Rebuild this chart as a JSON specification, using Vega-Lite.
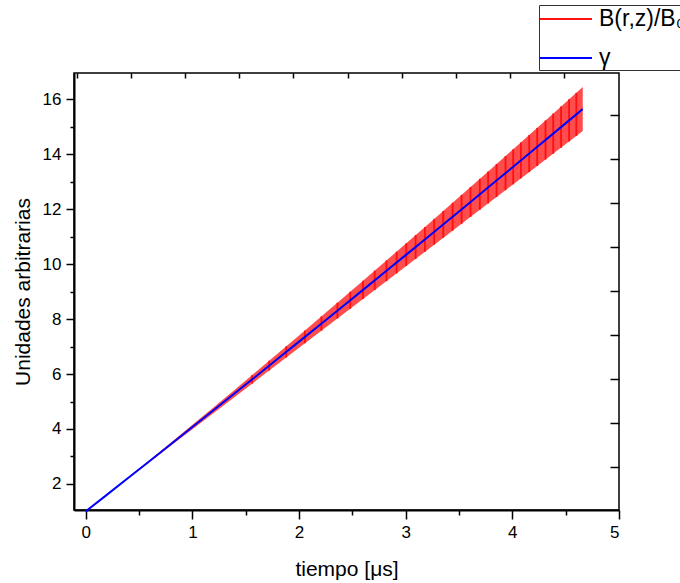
{
  "$schema": "https://vega.github.io/schema/vega-lite/v6.json",
  "width": 545,
  "height": 437,
  "autosize": {"type": "none"},
  "padding": {"left": 74, "top": 73, "right": 61, "bottom": 73},
  "background": "white",
  "config": {
    "view": {"stroke": "black", "strokeWidth": 1.5},
    "font": "Liberation Sans",
    "axis": {
      "grid": false,
      "labelFont": "Liberation Sans",
      "labelFontSize": 17,
      "labelColor": "black",
      "tickColor": "black",
      "tickWidth": 1.5,
      "domainColor": "black",
      "domainWidth": 2,
      "titleFont": "Liberation Sans",
      "titleFontSize": 21,
      "titleFontWeight": "normal",
      "titleColor": "black"
    }
  },
  "datasets": {
    "curve": [
      {"t": 0.0, "g": 1.0, "lo": 1.0, "hi": 1.0},
      {"t": 0.2, "g": 1.611, "lo": 1.604, "hi": 1.618},
      {"t": 0.4, "g": 2.223, "lo": 2.203, "hi": 2.243},
      {"t": 0.6, "g": 2.837, "lo": 2.8, "hi": 2.874},
      {"t": 0.8, "g": 3.453, "lo": 3.396, "hi": 3.51},
      {"t": 1.0, "g": 4.07, "lo": 3.99, "hi": 4.15},
      {"t": 1.2, "g": 4.689, "lo": 4.584, "hi": 4.794},
      {"t": 1.4, "g": 5.309, "lo": 5.177, "hi": 5.441},
      {"t": 1.6, "g": 5.931, "lo": 5.77, "hi": 6.092},
      {"t": 1.8, "g": 6.555, "lo": 6.363, "hi": 6.747},
      {"t": 2.0, "g": 7.18, "lo": 6.955, "hi": 7.405},
      {"t": 2.2, "g": 7.807, "lo": 7.547, "hi": 8.067},
      {"t": 2.4, "g": 8.435, "lo": 8.139, "hi": 8.731},
      {"t": 2.6, "g": 9.065, "lo": 8.732, "hi": 9.398},
      {"t": 2.8, "g": 9.697, "lo": 9.324, "hi": 10.07},
      {"t": 3.0, "g": 10.33, "lo": 9.917, "hi": 10.743},
      {"t": 3.2, "g": 10.965, "lo": 10.51, "hi": 11.42},
      {"t": 3.4, "g": 11.601, "lo": 11.102, "hi": 12.1},
      {"t": 3.6, "g": 12.239, "lo": 11.696, "hi": 12.782},
      {"t": 3.8, "g": 12.879, "lo": 12.29, "hi": 13.468},
      {"t": 4.0, "g": 13.52, "lo": 12.884, "hi": 14.156},
      {"t": 4.2, "g": 14.163, "lo": 13.478, "hi": 14.848},
      {"t": 4.4, "g": 14.807, "lo": 14.073, "hi": 15.541},
      {"t": 4.6, "g": 15.453, "lo": 14.668, "hi": 16.238},
      {"t": 4.66, "g": 15.647, "lo": 14.847, "hi": 16.447}
    ],
    "turns": [
      {"t": 1.56, "lo": 5.652, "hi": 5.962},
      {"t": 1.72, "lo": 6.126, "hi": 6.484},
      {"t": 1.88, "lo": 6.6, "hi": 7.01},
      {"t": 2.055, "lo": 7.118, "hi": 7.586},
      {"t": 2.21, "lo": 7.577, "hi": 8.099},
      {"t": 2.36, "lo": 8.021, "hi": 8.597},
      {"t": 2.48, "lo": 8.376, "hi": 8.998},
      {"t": 2.6, "lo": 8.732, "hi": 9.398},
      {"t": 2.71, "lo": 9.057, "hi": 9.767},
      {"t": 2.82, "lo": 9.383, "hi": 10.137},
      {"t": 2.915, "lo": 9.665, "hi": 10.457},
      {"t": 3.005, "lo": 9.932, "hi": 10.76},
      {"t": 3.093, "lo": 10.192, "hi": 11.058},
      {"t": 3.18, "lo": 10.45, "hi": 11.352},
      {"t": 3.267, "lo": 10.708, "hi": 11.648},
      {"t": 3.352, "lo": 10.961, "hi": 11.937},
      {"t": 3.44, "lo": 11.222, "hi": 12.236},
      {"t": 3.524, "lo": 11.47, "hi": 12.522},
      {"t": 3.608, "lo": 11.719, "hi": 12.809},
      {"t": 3.695, "lo": 11.978, "hi": 13.108},
      {"t": 3.773, "lo": 12.21, "hi": 13.376},
      {"t": 3.852, "lo": 12.445, "hi": 13.647},
      {"t": 3.936, "lo": 12.694, "hi": 13.936},
      {"t": 4.008, "lo": 12.907, "hi": 14.183},
      {"t": 4.08, "lo": 13.122, "hi": 14.432},
      {"t": 4.158, "lo": 13.354, "hi": 14.702},
      {"t": 4.233, "lo": 13.576, "hi": 14.962},
      {"t": 4.311, "lo": 13.809, "hi": 15.233},
      {"t": 4.383, "lo": 14.022, "hi": 15.482},
      {"t": 4.457, "lo": 14.243, "hi": 15.739},
      {"t": 4.532, "lo": 14.467, "hi": 16.001},
      {"t": 4.6, "lo": 14.668, "hi": 16.238}
    ]
  },
  "resolve": {"axis": {"x": "independent", "y": "independent"}},
  "layer": [
    {
      "data": {"name": "curve"},
      "mark": {"type": "area", "color": "#ff0000", "opacity": 0.7},
      "encoding": {
        "x": {
          "field": "t", "type": "quantitative",
          "scale": {"domain": [-0.11, 5], "nice": false, "zero": false},
          "axis": {
            "orient": "bottom", "values": [0, 1, 2, 3, 4, 5], "format": "d",
            "tickSize": 9, "labelPadding": 5,
            "title": "tiempo [μs]", "titlePadding": 18
          }
        },
        "y": {
          "field": "lo", "type": "quantitative",
          "scale": {"domain": [1.05, 16.96], "nice": false, "zero": false},
          "axis": {
            "orient": "left", "values": [2, 4, 6, 8, 10, 12, 14, 16], "format": "d",
            "tickSize": 8, "labelPadding": 5,
            "title": "Unidades arbitrarias", "titlePadding": 9
          }
        },
        "y2": {"field": "hi"}
      }
    },
    {
      "data": {"name": "turns"},
      "mark": {"type": "rule", "strokeWidth": 1.8},
      "encoding": {
        "x": {
          "field": "t", "type": "quantitative",
          "axis": {
            "orient": "bottom", "values": [0.5, 1.5, 2.5, 3.5, 4.5],
            "tickSize": 5, "labels": false, "domain": false, "title": null
          }
        },
        "y": {
          "field": "lo", "type": "quantitative",
          "axis": {
            "orient": "left", "values": [3, 5, 7, 9, 11, 13, 15],
            "tickSize": 4, "labels": false, "domain": false, "title": null
          }
        },
        "y2": {"field": "hi"},
        "color": {
          "datum": "B(r,z)/B₀",
          "type": "nominal",
          "scale": {"domain": ["B(r,z)/B₀", "γ"], "range": ["#ff1010", "#0000ff"]},
          "legend": {
            "title": null,
            "orient": "none",
            "legendX": 465,
            "legendY": -68,
            "symbolType": "M-1,0H3",
            "symbolSize": 676,
            "symbolStrokeWidth": 2,
            "labelFont": "Liberation Sans",
            "labelFontSize": 23,
            "labelColor": "black",
            "labelOffset": 32,
            "labelLimit": 400,
            "rowPadding": 13,
            "padding": 0,
            "strokeColor": "#333333",
            "fillColor": "white"
          }
        }
      }
    },
    {
      "data": {"name": "curve"},
      "mark": {"type": "line", "strokeWidth": 2},
      "encoding": {
        "x": {
          "field": "t", "type": "quantitative",
          "axis": {
            "orient": "top",
            "values": [-0.085, 0.423, 0.931, 1.439, 1.947, 2.455, 2.963, 3.472, 3.978, 4.487],
            "tickSize": -5, "labels": false, "domain": false, "title": null
          }
        },
        "y": {
          "field": "g", "type": "quantitative",
          "axis": {
            "orient": "right",
            "values": [1.015, 2.615, 4.215, 5.815, 7.415, 9.015, 10.615, 12.215, 13.815, 15.425],
            "tickSize": -9, "labels": false, "domain": false, "title": null
          }
        },
        "color": {"datum": "γ", "type": "nominal"}
      }
    }
  ]
}
